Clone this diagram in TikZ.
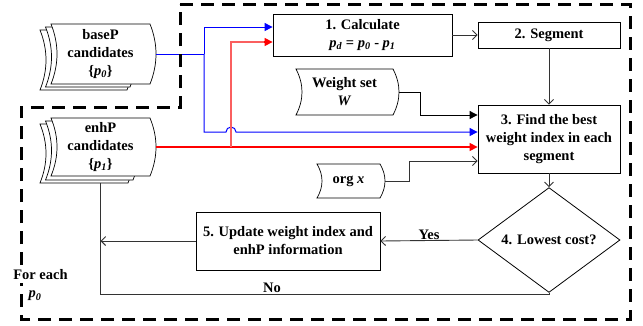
\documentclass[tikz,border=0pt]{standalone}
\usepackage{fontspec}
\setmainfont{Liberation Serif}
\usetikzlibrary{arrows.meta,calc,shapes.geometric}
\definecolor{pureblue}{RGB}{0,0,255}
\definecolor{purered}{RGB}{255,0,0}
\definecolor{lightred}{RGB}{250,95,95}
\newcommand{\datashape}[6]{%
  \draw[#6] (#1,#2) -- (#3,#2)
    .. controls ({#3+1.333*#5},{#2+(#4-#2)/3}) and ({#3+1.333*#5},{#2+2*(#4-#2)/3}) .. (#3,#4)
    -- (#1,#4)
    .. controls ({#1+1.333*#5},{#2+2*(#4-#2)/3}) and ({#1+1.333*#5},{#2+(#4-#2)/3}) .. (#1,#2) -- cycle;}
\tikzset{
  every node/.style={font=\bfseries\fontsize{14.5}{18}\selectfont},
  box/.style={draw, line width=0.8pt, rectangle, align=center, inner sep=0pt},
  txt/.style={align=center, inner sep=0pt},
  shp/.style={draw=black, line width=0.7pt, fill=white},
  conn/.style={line width=0.9pt, draw=black!80},
  opentip/.style={conn, -{Straight Barb[length=4.5pt,width=9pt]}},
  bluel/.style={line width=1pt, draw=pureblue},
  redl/.style={line width=1.2pt, draw=purered},
  redlight/.style={line width=1.2pt, draw=lightred},
  border/.style={line width=3pt, dash pattern=on 13pt off 8pt, draw=black}
}
\begin{document}
\begin{tikzpicture}[x=1pt,y=-1pt]
\useasboundingbox (0,0) rectangle (643,325);

% stacked data shapes
\datashape{40}{30}{127}{90}{6}{shp}
\datashape{45.5}{27}{130}{87}{6}{shp}
\datashape{51}{24}{150}{84}{6}{shp}
\datashape{40}{124}{128}{183}{6}{shp}
\datashape{45.5}{121}{133}{180}{6}{shp}
\datashape{51}{118}{150}{176}{6}{shp}
\datashape{296}{69}{393}{115}{6}{shp}
\datashape{317}{164}{380}{198}{5}{shp}

% nodes
\node[txt, minimum width=99pt, minimum height=60pt] (base) at (100.5,54) {baseP\\candidates\\\{\textit{p}\textsubscript{\textit{0}}\}};
\node[txt, minimum width=99pt, minimum height=58pt] (enh) at (100.5,147) {enhP\\candidates\\\{\textit{p}\textsubscript{\textit{1}}\}};
\node[txt, minimum width=97pt, minimum height=46pt] (wt) at (344.5,92) {Weight set\\\textit{W}};
\node[txt, minimum width=63pt, minimum height=34pt] (org) at (348.5,181) {org \textit{x}};

\node[box, minimum width=179pt, minimum height=42pt] (calc) at (362.5,35) {1. Calculate\\\textit{p\textsubscript{d}} = \textit{p\textsubscript{0}} - \textit{p\textsubscript{1}}};
\node[box, minimum width=142pt, minimum height=26pt] (seg) at (549,35) {2. Segment};
\node[box, minimum width=142pt, minimum height=68pt] (find) at (549,139) {3. Find the best\\weight index in each\\segment};
\node[draw, line width=0.8pt, diamond, inner sep=0pt, minimum width=142pt, minimum height=80pt] (dia) at (549,240) {4. Lowest cost?};
\node[box, minimum width=184pt, minimum height=58pt] (upd) at (288,241) {5. Update weight index and\\enhP information};

\node[txt] (yes) at (429,235) {Yes};
\node[txt] (no) at (272,288) {No};

% connectors
\coordinate (bj) at (204,54);
\coordinate (hop) at (231,132);
\coordinate (rj) at (231,147);

\draw[bluel] ([xshift=6pt]base.east) -- (bj);
\draw[bluel, -{Triangle[length=8pt,width=8pt,fill=pureblue]}] (bj) |- ([yshift=8pt]calc.west);
\draw[bluel, -{Triangle[length=8pt,width=8pt,fill=pureblue]}] (bj) |- ($(hop)+(-5pt,0)$) arc[start angle=180, end angle=0, radius=5pt] -- ([yshift=7pt]find.west);

\draw[redl, -{Triangle[length=8pt,width=8pt,fill=purered]}] ([xshift=6pt]enh.east) -- ([yshift=-8pt]find.west);
\draw[redlight] (rj) |- ([yshift=-7pt,xshift=-8pt]calc.west);
\draw[redl, -{Triangle[length=8pt,width=8pt,fill=purered]}] ([yshift=-7pt,xshift=-8.5pt]calc.west) -- ([yshift=-7pt]calc.west);

\draw[opentip] (calc.east) -- (seg.west);
\draw[opentip] (seg.south) -- (find.north);
\draw[conn, draw=black, -{Triangle[length=8pt,width=8pt,fill=black]}] ([xshift=6pt]wt.east) -- ++(21pt,0) |- ([yshift=24pt]find.west);
\draw[opentip] ([xshift=5pt]org.east) -- ++(24pt,0) |- ([yshift=-22pt]find.west);
\draw[opentip] (find.south) -- (dia.north);
\draw[opentip] (dia.west) -- (upd.east);
\draw[opentip] (upd.west) -- (upd.west -| enh.south);
\draw[conn] ([yshift=-7pt]enh.south) -- (enh.south |- 0,294) -| (dia.south);

% dashed border
\draw[border] (180,4) -- (630,4) -- (630,319) -- (21,319) -- (21,107) -- (180,107) -- cycle;
\node[txt, fill=white, inner sep=3pt] (foreach) at (40.5,275) {For each};
\node[txt, fill=white, inner sep=3pt] (pzero) at (35,296) {\textit{p\textsubscript{0}}};
\end{tikzpicture}
\end{document}
